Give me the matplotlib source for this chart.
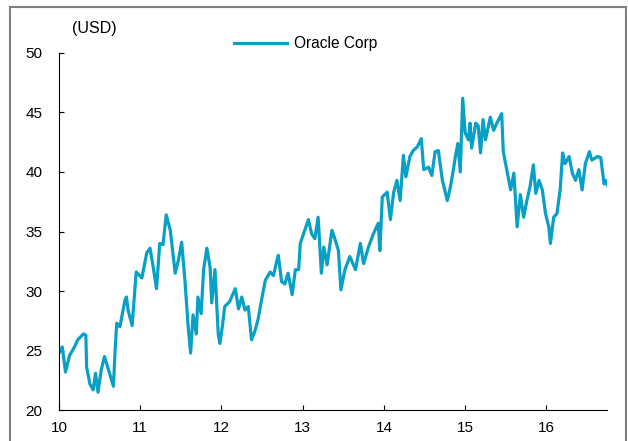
import numpy as np
import matplotlib.pyplot as plt
import matplotlib.patches as patches

plt.rcParams['font.family'] = ['Liberation Sans', 'DejaVu Sans']

# Oracle Corp share price (USD), decimal year (10 = 2010)
years = [10.00, 10.04, 10.08, 10.13, 10.19, 10.23, 10.30, 10.33, 10.34, 10.38,
         10.42, 10.45, 10.48, 10.52, 10.56, 10.60, 10.67, 10.69, 10.71, 10.75,
         10.81, 10.83, 10.85, 10.90, 10.95, 11.02, 11.08, 11.12, 11.16, 11.20,
         11.24, 11.28, 11.32, 11.37, 11.43, 11.47, 11.51, 11.55, 11.59, 11.62,
         11.65, 11.69, 11.71, 11.75, 11.78, 11.82, 11.86, 11.88, 11.92, 11.96,
         11.98, 12.01, 12.04, 12.10, 12.17, 12.21, 12.25, 12.29, 12.33, 12.37,
         12.41, 12.45, 12.50, 12.54, 12.60, 12.64, 12.68, 12.70, 12.74, 12.78,
         12.82, 12.87, 12.91, 12.95, 12.97, 13.01, 13.07, 13.11, 13.15, 13.19,
         13.23, 13.26, 13.30, 13.36, 13.40, 13.44, 13.47, 13.52, 13.58, 13.65,
         13.71, 13.75, 13.81, 13.87, 13.93, 13.95, 13.98, 14.04, 14.08, 14.12,
         14.16, 14.20, 14.24, 14.27, 14.32, 14.36, 14.41, 14.46, 14.49, 14.55,
         14.59, 14.63, 14.67, 14.72, 14.78, 14.82, 14.86, 14.88, 14.91, 14.94,
         14.97, 15.00, 15.04, 15.06, 15.08, 15.13, 15.16, 15.19, 15.22, 15.25,
         15.31, 15.35, 15.39, 15.45, 15.47, 15.52, 15.56, 15.60, 15.64, 15.68,
         15.72, 15.76, 15.80, 15.84, 15.87, 15.91, 15.95, 15.99, 16.03, 16.05,
         16.09, 16.13, 16.17, 16.20, 16.23, 16.28, 16.32, 16.36, 16.40, 16.44,
         16.48, 16.53, 16.56, 16.63, 16.67, 16.71, 16.73, 16.75]
price = [24.8, 25.3, 23.2, 24.6, 25.3, 25.9, 26.4, 26.3, 23.6, 22.2,
         21.7, 23.1, 21.5, 23.4, 24.5, 23.6, 22.0, 25.0, 27.3, 27.0,
         29.2, 29.5, 28.4, 27.1, 31.6, 31.1, 33.2, 33.6, 32.0, 30.2,
         34.0, 33.9, 36.4, 35.1, 31.5, 32.6, 34.1, 30.9, 27.0, 24.8,
         28.0, 26.4, 29.5, 28.1, 31.8, 33.6, 32.0, 29.0, 31.8, 26.4,
         25.6, 27.0, 28.7, 29.1, 30.2, 28.5, 29.5, 28.4, 28.7, 25.9,
         26.6, 27.6, 29.5, 30.9, 31.6, 31.3, 32.5, 33.0, 30.8, 30.6,
         31.5, 29.7, 31.8, 31.8, 34.0, 34.8, 36.0, 34.8, 34.4, 36.2,
         31.5, 33.7, 32.2, 35.1, 34.3, 33.4, 30.1, 31.8, 32.9, 31.8,
         34.0, 32.3, 33.7, 34.8, 35.7, 33.4, 37.9, 38.3, 36.0, 38.3,
         39.3, 37.6, 41.4, 39.6, 41.3, 41.8, 42.1, 42.8, 40.2, 40.4,
         39.7, 41.7, 41.8, 39.3, 37.6, 38.8, 40.4, 41.3, 42.4, 40.0,
         46.2, 43.3, 42.7, 44.1, 42.0, 44.1, 43.9, 41.6, 44.4, 42.7,
         44.6, 43.5, 44.1, 44.9, 41.7, 39.9, 38.5, 39.9, 35.4, 38.1,
         36.2, 37.6, 38.8, 40.6, 38.2, 39.3, 38.5, 36.5, 35.4, 34.0,
         36.2, 36.5, 38.5, 41.6, 40.7, 41.3, 39.9, 39.3, 40.2, 38.5,
         40.7, 41.7, 41.0, 41.3, 41.2, 39.0, 39.3, 38.9]

y_ticks = [20, 25, 30, 35, 40, 45, 50]
x_ticks = [10, 11, 12, 13, 14, 15, 16]

fig = plt.figure(figsize=(6.28, 4.41), dpi=100)
ax = fig.add_axes([0.094, 0.070, 0.873, 0.810])

ax.plot(years, price, color='#08a0c4', lw=2.3, label='Oracle Corp')

ax.set_xlim(10, 16.75)
ax.set_ylim(20, 50)
ax.set_xticks(x_ticks)
ax.set_yticks(y_ticks)
ax.tick_params(direction='in', length=3.5, labelsize=11, colors='black')
ax.tick_params(axis='y', pad=12)
ax.tick_params(axis='x', pad=8)
for s in ['top', 'right']:
    ax.spines[s].set_visible(False)

ax.legend(loc='center', bbox_to_anchor=(0.45, 1.025), frameon=False,
          fontsize=11.2, handlelength=3.4, handletextpad=0.4)
fig.text(0.115, 0.935, '(USD)', fontsize=11.5, ha='left', va='center')

# grey frame around the chart
fig.patches.append(patches.Rectangle((0.016, -0.02), 0.981, 1.004,
                                     transform=fig.transFigure, fill=False,
                                     edgecolor='#808080', lw=1.5))

fig.savefig('out.png', dpi=100)
